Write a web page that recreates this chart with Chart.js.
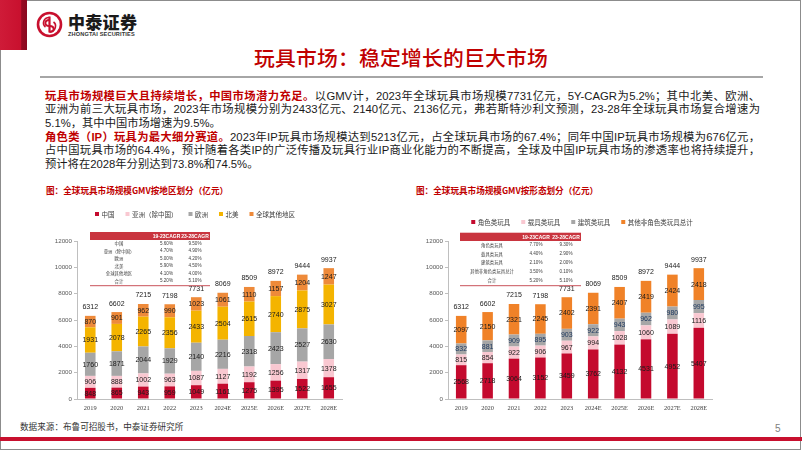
<!DOCTYPE html>
<html><head><meta charset="utf-8">
<script src="https://cdn.jsdelivr.net/npm/chart.js@4.4.1/dist/chart.umd.min.js"></script>
<style>
html,body{margin:0;padding:0;background:#fff;}
body{width:802px;height:451px;position:relative;overflow:hidden;font-family:"Liberation Sans","Noto Sans CJK SC",sans-serif;}
.abs{position:absolute;}
#frame{left:0;top:0;width:801px;height:450px;border:1px solid #8c8c8c;box-sizing:border-box;}
#redblock{left:0;top:0;width:27px;height:50px;background:linear-gradient(to right,#CF1B38 0,#C8102E 78%,#950A22 80%,#8A0820 100%);}
#logoText{left:68px;top:12px;font-family:"Noto Sans CJK SC";font-weight:900;font-size:17px;line-height:20px;color:#1a1a1a;letter-spacing:0.3px;}
#logoSub{left:68px;top:31px;font-family:"Liberation Sans";font-weight:700;font-size:5.6px;line-height:6px;color:#333;letter-spacing:0.15px;}
#title{left:0;width:802px;top:44px;text-align:center;font-family:"Noto Sans CJK SC";font-weight:500;font-size:20.8px;line-height:26px;color:#C00000;letter-spacing:0.2px;}
#rule{left:40px;top:76px;width:723px;height:2px;background:#A6A6A6;}
#para{left:45px;top:89.6px;width:715px;font-size:11.3px;line-height:13.7px;color:#1a1a1a;}
#para div{white-space:nowrap;height:13.7px;overflow:visible;}
#para div.j{text-align:justify;text-align-last:justify;white-space:normal;}
.hl{color:#C00000;font-weight:700;}
.ctitle{top:184px;font-family:"Noto Sans CJK SC","Liberation Sans";font-weight:700;font-size:8.6px;line-height:12px;color:#C00000;white-space:nowrap;}
#src{left:20px;top:420px;font-family:"Noto Sans CJK SC";font-size:8.6px;line-height:12px;color:#333;}
#pnum{left:775px;top:422px;font-size:10px;line-height:14px;color:#808080;}
#bottombar{left:0;top:437px;width:802px;height:4px;background:#C8102E;}
canvas{position:absolute;}
</style></head>
<body>
<div id="frame" class="abs"></div>
<div id="redblock" class="abs"></div>
<svg class="abs" style="left:36px;top:11px" width="27" height="27" viewBox="0 0 27 27">
  <circle cx="13.5" cy="13.5" r="11.5" fill="none" stroke="#C8102E" stroke-width="2.6"/>
  <path d="M13.5 5.5 V21.5" stroke="#C8102E" stroke-width="2.2" fill="none"/>
  <path d="M13.5 9 C8 9 8 15 13.5 15 C19 15 19 21 13.5 21" stroke="#C8102E" stroke-width="2" fill="none"/>
  <path d="M13.5 6.5 C7 6.5 6 13.5 9.5 16" stroke="#C8102E" stroke-width="1.6" fill="none"/>
  <path d="M13.5 20.5 C20 20.5 21 13.5 17.5 11" stroke="#C8102E" stroke-width="1.6" fill="none"/>
</svg>
<div id="logoText" class="abs">中泰证券</div>
<div id="logoSub" class="abs">ZHONGTAI SECURITIES</div>
<div id="title" class="abs">玩具市场：稳定增长的巨大市场</div>
<div id="rule" class="abs"></div>
<div id="para" class="abs">
<div class="j"><span class="hl">玩具市场规模巨大且持续增长，中国市场潜力充足。</span>以GMV计，2023年全球玩具市场规模7731亿元，5Y-CAGR为5.2%；其中北美、欧洲、</div>
<div class="j">亚洲为前三大玩具市场，2023年市场规模分别为2433亿元、2140亿元、2136亿元，弗若斯特沙利文预测，23-28年全球玩具市场复合增速为</div>
<div>5.1%，其中中国市场增速为9.5%。</div>
<div class="j"><span class="hl">角色类（IP）玩具为最大细分赛道。</span>2023年IP玩具市场规模达到5213亿元，占全球玩具市场的67.4%；同年中国IP玩具市场规模为676亿元，</div>
<div class="j">占中国玩具市场的64.4%，预计随着各类IP的广泛传播及玩具行业IP商业化能力的不断提高，全球及中国IP玩具市场的渗透率也将持续提升，</div>
<div>预计将在2028年分别达到73.8%和74.5%。</div>
</div>
<div class="abs ctitle" style="left:46px">图：全球玩具市场规模GMV按地区划分（亿元）</div>
<div class="abs ctitle" style="left:416px">图：全球玩具市场规模GMV按形态划分（亿元）</div>
<canvas id="c1" width="331" height="220" style="left:30px;top:196px"></canvas>
<canvas id="c2" width="330" height="220" style="left:400px;top:196px"></canvas>
<div id="src" class="abs">数据来源：布鲁可招股书，中泰证券研究所</div>
<div id="pnum" class="abs">5</div>
<div id="bottombar" class="abs"></div>
<script>
// ---------- data ----------
const years = ['2019','2020','2021','2022','2023','2024E','2025E','2026E','2027E','2028E'];

const regionNames = ['中国','亚洲（除中国）','欧洲','北美','全球其他地区'];
const china        = [848, 865, 943, 959, 1049, 1161, 1275, 1395, 1522, 1655];
const asiaExChina  = [906, 888, 1002, 963, 1087, 1127, 1192, 1256, 1317, 1378];
const europe       = [1760, 1871, 2044, 1929, 2140, 2216, 2318, 2423, 2527, 2630];
const northAmerica = [1931, 2078, 2265, 2356, 2433, 2504, 2615, 2740, 2875, 3027];
const otherRegions = [870, 901, 962, 990, 1023, 1061, 1110, 1157, 1204, 1247];
const totalGMV     = [6312, 6602, 7215, 7198, 7731, 8069, 8509, 8972, 9444, 9937];

const typeNames = ['角色类玩具','载具类玩具','建筑类玩具','其他非角色类玩具总计'];
const roleToys     = [2568, 2718, 3064, 3152, 3459, 3762, 4132, 4531, 4952, 5407];
const vehicleToys  = [815, 854, 922, 906, 967, 994, 1028, 1060, 1089, 1116];
const buildingToys = [832, 881, 909, 895, 903, 922, 943, 962, 980, 995];
const otherToys    = [2097, 2150, 2321, 2245, 2402, 2391, 2407, 2419, 2424, 2418];

const cagrHeaders = ['19-23CAGR','23-28CAGR'];
const regionRows = ['中国','亚洲（除中国）','欧洲','北美','全球其他地区','合计'];
const regionCagr1923 = ['5.60%','4.70%','5.00%','5.90%','4.10%','5.20%'];
const regionCagr2328 = ['9.50%','4.90%','4.20%','4.50%','4.00%','5.10%'];
const typeRows = ['角色类玩具','载具类玩具','建筑类玩具','其他非角色类玩具总计','合计'];
const typeCagr1923 = ['7.70%','4.40%','2.10%','3.50%','5.20%'];
const typeCagr2328 = ['9.30%','2.90%','2.00%','0.10%','5.10%'];

const yTicksMax = 12000, yTickStep = 2000;

// ---------- styles ----------
const RED = '#C40A2E', PINK = '#F9C8D1', GRAY = '#A6A6A6', YELLOW = '#F4B400', ORANGE1 = '#EE8A3A', ORANGE2 = '#F08228';

function overlayPlugin(o) {
  return {
    id: 'overlay',
    afterDatasetsDraw(chart) {
      const ctx = chart.ctx;
      ctx.save();
      ctx.textAlign = 'center';
      ctx.textBaseline = 'middle';
      ctx.font = '7px "Liberation Sans"';
      chart.data.datasets.forEach((ds, i) => {
        const meta = chart.getDatasetMeta(i);
        meta.data.forEach((bar, j) => {
          const p = bar.getProps(['x', 'y', 'base'], true);
          ctx.fillStyle = ds.labelColor || '#1a1a1a';
          ctx.fillText(String(ds.data[j]), p.x, (p.y + p.base) / 2 + 0.5);
        });
      });
      const yS = chart.scales.y, xS = chart.scales.x;
      ctx.fillStyle = '#1a1a1a';
      o.totals.forEach((t, j) => {
        ctx.fillText(String(t), xS.getPixelForValue(j), yS.getPixelForValue(t) - 8.5);
      });
      ctx.restore();
    },
    afterDraw(chart) {
      const ctx = chart.ctx;
      ctx.save();
      // legend
      ctx.font = '6.5px "Noto Sans CJK SC"';
      ctx.textBaseline = 'middle';
      ctx.textAlign = 'left';
      const box = 4, gapText = 2.5, gapItem = 11;
      const items = chart.data.datasets.map(d => ({label: d.label, color: d.backgroundColor, w: ctx.measureText(d.label).width}));
      let total = items.reduce((s, it) => s + box + gapText + it.w, 0) + gapItem * (items.length - 1);
      let x = o.legendCx - total / 2;
      items.forEach(it => {
        ctx.fillStyle = it.color;
        ctx.fillRect(x, o.legendY - box / 2, box, box);
        ctx.fillStyle = '#404040';
        ctx.fillText(it.label, x + box + gapText, o.legendY + 0.5);
        x += box + gapText + it.w + gapItem;
      });
      // CAGR table
      const t = o.table;
      ctx.fillStyle = '#C9353F';
      ctx.fillRect(t.x0, t.hy0, t.x1 - t.x0, t.hy1 - t.hy0);
      ctx.textAlign = 'center';
      ctx.fillStyle = '#ffffff';
      ctx.font = 'bold 5px "Liberation Sans"';
      const hy = (t.hy0 + t.hy1) / 2 + 0.3;
      ctx.fillText(cagrHeaders[0], t.c2, hy);
      ctx.fillText(cagrHeaders[1], t.c3, hy);
      t.rows.forEach((r, k) => {
        const ry = t.ry0 + k * t.rstep;
        ctx.fillStyle = '#404040';
        ctx.font = '4.4px "Noto Sans CJK SC"';
        ctx.fillText(r, t.c1, ry);
        ctx.font = '4.6px "Liberation Sans"';
        ctx.fillText(t.v1[k], t.c2, ry);
        ctx.fillText(t.v2[k], t.c3, ry);
      });
      ctx.strokeStyle = '#C9535B';
      ctx.lineWidth = 1;
      ctx.beginPath();
      ctx.moveTo(t.x0, t.ly); ctx.lineTo(t.x1, t.ly);
      ctx.stroke();
      ctx.restore();
    }
  };
}

function makeChart(id, datasets, o) {
  return new Chart(document.getElementById(id), {
    type: 'bar',
    data: {labels: years, datasets},
    options: {
      responsive: false,
      animation: false,
      devicePixelRatio: 1,
      layout: {padding: {top: 45, right: o.padRight, left: 0, bottom: 0}},
      plugins: {legend: {display: false}, tooltip: {enabled: false}, title: {display: false}},
      datasets: {bar: {categoryPercentage: 0.8, barPercentage: 0.5}},
      scales: {
        x: {
          stacked: true,
          grid: {display: true, drawOnChartArea: false, drawTicks: false, color: '#BFBFBF'},
          border: {display: true, color: '#BFBFBF', width: 1},
          ticks: {color: '#404040', font: {family: 'Liberation Serif', size: 6.4}, padding: 5, maxRotation: 0, autoSkip: false},
          afterFit(s) { s.height = 17; }
        },
        y: {
          stacked: true, min: 0, max: yTicksMax,
          grid: {display: true, drawOnChartArea: false, drawTicks: true, tickLength: 3, color: '#BFBFBF'},
          border: {display: true, color: '#BFBFBF', width: 1},
          ticks: {stepSize: yTickStep, color: '#595959', font: {family: 'Liberation Sans', size: 6.2}, padding: 2,
                  callback: v => String(v)},
          afterFit(s) { s.width = o.axisW; }
        }
      }
    },
    plugins: [overlayPlugin(o)]
  });
}

makeChart('c1', [
  {label: regionNames[0], data: china, backgroundColor: RED},
  {label: regionNames[1], data: asiaExChina, backgroundColor: PINK},
  {label: regionNames[2], data: europe, backgroundColor: GRAY},
  {label: regionNames[3], data: northAmerica, backgroundColor: YELLOW},
  {label: regionNames[4], data: otherRegions, backgroundColor: ORANGE1}
], {
  totals: totalGMV, axisW: 47, padRight: 19,
  legendCx: 165, legendY: 18,
  table: {x0: 60, x1: 180, hy0: 36, hy1: 44, c1: 89, c2: 136.5, c3: 165,
          ry0: 47.4, rstep: 7.55, ly: 89.7, rows: regionRows, v1: regionCagr1923, v2: regionCagr2328}
});

makeChart('c2', [
  {label: typeNames[0], data: roleToys, backgroundColor: RED},
  {label: typeNames[1], data: vehicleToys, backgroundColor: PINK},
  {label: typeNames[2], data: buildingToys, backgroundColor: GRAY, labelColor: '#1F3A60'},
  {label: typeNames[3], data: otherToys, backgroundColor: ORANGE2}
], {
  totals: totalGMV, axisW: 48, padRight: 18,
  legendCx: 182, legendY: 26,
  table: {x0: 60, x1: 181, hy0: 36.7, hy1: 45, c1: 92, c2: 136, c3: 166,
          ry0: 49, rstep: 8.9, ly: 89.7, rows: typeRows, v1: typeCagr1923, v2: typeCagr2328}
});
</script>
</body></html>
